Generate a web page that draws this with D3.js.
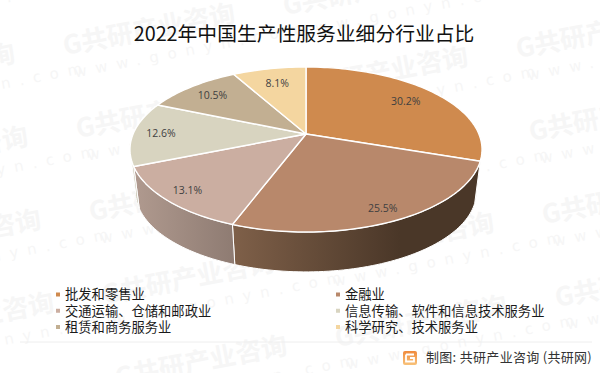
<!DOCTYPE html>
<html>

<head>
    <meta charset="UTF-8">
    <title>2022年中国生产性服务业细分行业占比</title>
    <script src="https://d3js.org/d3.v7.min.js"></script>
    <style>
        * {
            padding: 0;
            margin: 0;
        }

        body {
            background: #fff;
        }

        svg {
            display: block;
            font-family: "Noto Sans CJK SC", sans-serif;
        }
    </style>
</head>

<body>
    <svg id="chart" width="600" height="373"></svg>
    <script>
        var categories = ["批发和零售业", "金融业", "交通运输、仓储和邮政业", "信息传输、软件和信息技术服务业", "租赁和商务服务业", "科学研究、技术服务业"];
        var shares = [30.2, 25.5, 13.1, 12.6, 10.5, 8.1];

        var topColors = ["#cf8a4e", "#b8886b", "#cbaea1", "#d8d4c0", "#c2af92", "#f4d6a0"];
        var sideFrom = ["#8a6a4c", "#7f6049", "#b09a8f", "#cfcbb8", "#a08f78", "#c8ae80"];
        var sideTo = ["#4a3728", "#4a3728", "#8e7b72", "#c4c0ac", "#a08f78", "#c8ae80"];
        var labelRadius = [0.77, 0.88, 0.87, 0.84, 0.8, 0.75];

        var svg = d3.select("#chart");
        var defs = svg.append("defs");

        // watermark behind everything
        var mark = svg.append("g").attr("fill", "#f6f6f6");
        d3.range(-1, 3).forEach(function (col) {
            d3.range(-1, 5).forEach(function (row) {
                var x = 65 + col * 220 + row * 13;
                var y = 55 + col * -40 + row * 83;
                if (y < -20 || y > 420) return;
                var g = mark.append("g").attr("transform", "translate(" + x + "," + y + ") rotate(-11)");
                g.append("text").attr("font-size", 26).attr("font-weight", 700).text("G共研产业咨询");
                g.append("text").attr("x", 6).attr("y", 24).attr("font-size", 15)
                    .attr("letter-spacing", 9).attr("font-family", "DejaVu Sans").text("www.gonyn.com");
            });
        });

        // the pie plate is drawn in perspective, k is the strength of it
        var k = 0.188;
        var x = d3.scaleLinear().domain([-1, 1]).range([133.1, 478.9]);
        var y = d3.scaleLinear().domain([-1, 1]).range([54.4, 213.6]);

        function project(angle, r) {
            var u = Math.sin(angle) * r;
            var v = -Math.cos(angle) * r;
            var d = 1 - k * v;
            return [x(u / d), y(v / d)];
        }

        // lower rim of the plate
        function lower(p) {
            return [306 + (p[0] - 306) * 0.968, 134 + (p[1] - 134) * 0.968 + 43];
        }

        function rim(a0, a1) {
            var n = Math.max(2, Math.ceil((a1 - a0) * 40));
            return d3.range(n + 1).map(function (i) {
                return project(a0 + (a1 - a0) * i / n, 1);
            });
        }

        var line = d3.line();
        var slices = d3.pie().sort(null).value(function (d) { return d; })(shares);

        // only the front of the wall is visible
        var wallFrom = Math.PI - Math.acos(k);
        var wallTo = Math.PI + Math.acos(k);

        var walls = svg.append("g");
        slices.forEach(function (s, i) {
            var a0 = Math.max(s.startAngle, wallFrom);
            var a1 = Math.min(s.endAngle, wallTo);
            if (a0 >= a1) return;
            var top = rim(a0, a1);
            var bottom = top.map(lower).reverse();
            var xs = d3.extent(top.concat(bottom), function (p) { return p[0]; });
            var grad = defs.append("linearGradient")
                .attr("id", "wall" + i)
                .attr("gradientUnits", "userSpaceOnUse")
                .attr("x1", xs[0]).attr("x2", i == 1 ? 400 : xs[1])
                .attr("y1", 0).attr("y2", 0);
            grad.append("stop").attr("offset", 0).attr("stop-color", sideFrom[i]);
            grad.append("stop").attr("offset", 1).attr("stop-color", sideTo[i]);
            walls.append("path")
                .attr("d", line(top.concat(bottom)) + "Z")
                .attr("fill", "url(#wall" + i + ")")
                .attr("stroke", "#fff")
                .attr("stroke-width", 1);
        });

        svg.append("g").selectAll("path")
            .data(slices)
            .enter()
            .append("path")
            .attr("d", function (s) {
                return line([project(0, 0)].concat(rim(s.startAngle, s.endAngle))) + "Z";
            })
            .attr("fill", function (s, i) { return topColors[i]; })
            .attr("stroke", "#fff")
            .attr("stroke-width", 1.4)
            .attr("stroke-linejoin", "round");

        svg.append("g").selectAll("text")
            .data(slices)
            .enter()
            .append("text")
            .attr("transform", function (s, i) {
                var p = project((s.startAngle + s.endAngle) / 2, labelRadius[i]);
                return "translate(" + p[0] + "," + p[1] + ")";
            })
            .attr("dy", "0.35em")
            .attr("text-anchor", "middle")
            .attr("font-family", "Open Sans")
            .attr("font-size", 10.5)
            .attr("fill", "#404040")
            .text(function (s) { return s.value.toFixed(1) + "%"; });

        svg.append("text")
            .attr("x", 304)
            .attr("y", 41)
            .attr("text-anchor", "middle")
            .attr("font-size", 19.8)
            .attr("fill", "#111")
            .text("2022年中国生产性服务业细分行业占比");

        // legend, two columns
        var legendX = d3.scalePoint().domain([0, 1]).range([56, 336]);
        var legendY = d3.scalePoint().domain([0, 1, 2]).range([294.5, 327]);
        var legend = svg.append("g").selectAll("g")
            .data(categories)
            .enter()
            .append("g")
            .attr("transform", function (d, i) {
                return "translate(" + legendX(i % 2) + "," + legendY(Math.floor(i / 2)) + ")";
            });
        legend.append("rect")
            .attr("y", -2)
            .attr("width", 4)
            .attr("height", 4)
            .attr("fill", function (d, i) { return topColors[i]; });
        legend.append("text")
            .attr("x", 9)
            .attr("dy", "0.36em")
            .attr("font-size", 13.3)
            .attr("fill", "#1a1a1a")
            .text(function (d) { return d; });

        svg.append("line")
            .attr("x1", 20).attr("x2", 592)
            .attr("y1", 342).attr("y2", 342)
            .attr("stroke", "#eeeeee");

        // source line with the small logo
        var logoGrad = defs.append("linearGradient").attr("id", "logo")
            .attr("x1", 0).attr("x2", 0).attr("y1", 0).attr("y2", 1);
        logoGrad.append("stop").attr("offset", 0).attr("stop-color", "#f08a3c");
        logoGrad.append("stop").attr("offset", 1).attr("stop-color", "#f8c27a");
        var logo = svg.append("g").attr("transform", "translate(403,351)");
        logo.append("rect").attr("width", 14).attr("height", 14).attr("rx", 2).attr("fill", "url(#logo)");
        logo.append("path").attr("d", "M3 3.5H11M3 3.5V10.5H11V7H7").attr("fill", "none")
            .attr("stroke", "#fff").attr("stroke-width", 1.8);

        svg.append("text")
            .attr("x", 426)
            .attr("y", 362)
            .attr("font-size", 13)
            .attr("letter-spacing", 0.3)
            .attr("fill", "#333")
            .text("制图: 共研产业咨询 (共研网)");
    </script>
</body>

</html>
